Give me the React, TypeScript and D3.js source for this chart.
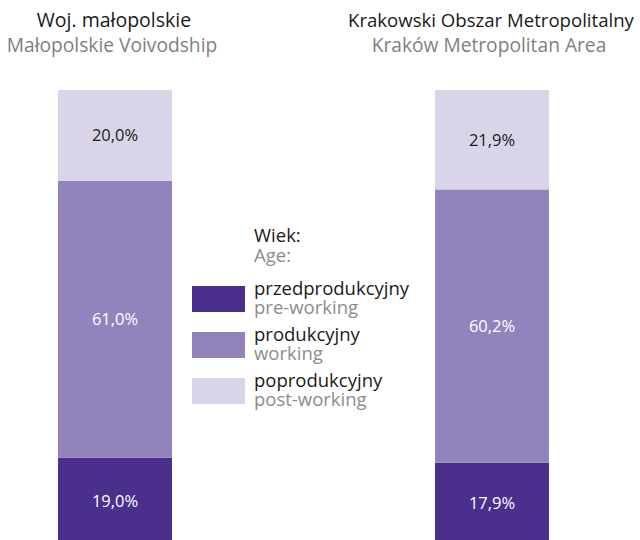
import React from 'react';
import * as d3 from 'd3';

// regions shown as bars
const regions = ['Woj. małopolskie', 'Krakowski Obszar Metropolitalny'];
const regionsEn = ['Małopolskie Voivodship', 'Kraków Metropolitan Area'];

// age groups, bottom to top of a bar
const groups = ['przedprodukcyjny', 'produkcyjny', 'poprodukcyjny'];
const groupsEn = ['pre-working', 'working', 'post-working'];

// shares in percent per region
const preWorking = [19.0, 17.9];
const working = [61.0, 60.2];
const postWorking = [20.0, 21.9];

const colors = ['#4a2f8d', '#9283bd', '#d9d4e8'];
const labelColors = ['#ffffff', '#ffffff', '#1a1a1a'];

const font = "'Open Sans', sans-serif";

export default function App() {
  const width = 640;
  const height = 540;

  // bars 114px wide at x=58 and x=435
  const x = d3.scaleBand().domain(regions).range([58, 549]).paddingInner(0.6976).paddingOuter(0);
  const y = d3.scaleLinear().domain([0, 100]).range([544, 90]);
  const color = d3.scaleOrdinal<string, string>().domain(groups).range(colors);

  const rows = regions.map((r, i) => ({ region: r, pre: preWorking[i], work: working[i], post: postWorking[i] }));
  const series = d3.stack<any>().keys(['pre', 'work', 'post'])(rows);

  const fmt = (v: number) => v.toFixed(1).replace('.', ',') + '%';

  return (
    <svg width={width} height={height} style={{ position: 'absolute', left: 0, top: 0, background: 'white' }}>
      {regions.map((r, i) => {
        const cx = (x(r) as number) + x.bandwidth() / 2;
        return (
          <g key={r} fontFamily={font} textAnchor="middle">
            <text x={cx - 1} y={27} fontSize={i === 0 ? 19.5 : 18.6} fill="#1a1a1a">{r}</text>
            <text x={cx - 3} y={52} fontSize={19.2} fill="#7f7f7f">{regionsEn[i]}</text>
          </g>
        );
      })}
      {series.map((s, gi) =>
        s.map((d, i) => {
          const bx = x(regions[i]) as number;
          const y0 = y(d[0]);
          const y1 = y(d[1]);
          return (
            <g key={gi + '-' + i}>
              <rect x={bx} y={y1} width={x.bandwidth()} height={y0 - y1} fill={color(groups[gi])} />
              <text
                x={bx + x.bandwidth() / 2}
                y={(y0 + y1) / 2}
                dy="0.36em"
                textAnchor="middle"
                fontFamily={font}
                fontSize={16.5}
                fill={labelColors[gi]}
              >
                {fmt(d[1] - d[0])}
              </text>
            </g>
          );
        })
      )}
      <g fontFamily={font} fontSize={18.5}>
        <text x={254} y={242} fill="#1a1a1a">Wiek:</text>
        <text x={254} y={262} fill="#8c8c8c">Age:</text>
        {groups.map((g, k) => (
          <g key={g} transform={`translate(192, ${286 + k * 46})`}>
            <rect x={0} y={0} width={53} height={26} fill={color(g)} />
            <text x={62} y={9} fill="#1a1a1a">{g}</text>
            <text x={62} y={28} fill="#8c8c8c">{groupsEn[k]}</text>
          </g>
        ))}
      </g>
    </svg>
  );
}
